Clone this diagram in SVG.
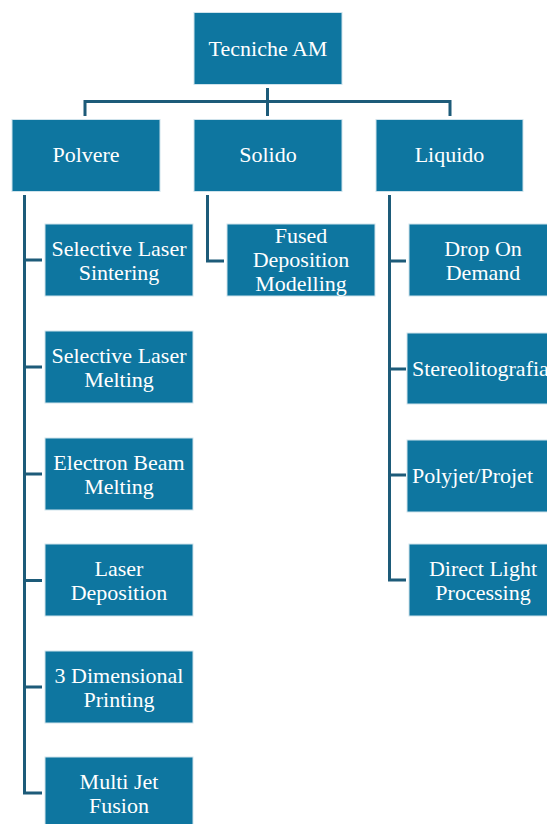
<svg xmlns="http://www.w3.org/2000/svg" width="547" height="824" viewBox="0 0 547 824">
<style>
.box{fill:#0E76A0;stroke:#CFE3EC;stroke-width:1}
text{font-family:'Liberation Serif','Times New Roman',Tinos,'Noto Serif',FreeSerif,'Nimbus Roman','DejaVu Serif',Times,serif;font-size:22px;fill:#FFFFFF}
.t{text-anchor:middle}
.ts{text-anchor:start}
.c{fill:none;stroke:#1D5B79;stroke-width:3}
</style>
<rect width="547" height="824" fill="#FFFFFF"/>
<g id="connectors">
<path class="c" d="M85,116 V101.5 H450 V116 M267.5,88 V116"/>
<path class="c" d="M24.5,195 V793 H42 M24.5,260 H42 M24.5,367 H42 M24.5,474 H42 M24.5,580.5 H42 M24.5,687 H42"/>
<path class="c" d="M207.5,195 V261 H224"/>
<path class="c" d="M389.5,195 V580 H406 M389.5,261 H406 M389.5,369 H406 M389.5,475 H406"/>
</g>
<g id="n-root"><rect class="box" x="194" y="12.5" width="148" height="72"/><text class="t" x="268" y="55.5">Tecniche AM</text></g>
<g id="n-polvere"><rect class="box" x="12" y="119.5" width="148" height="72"/><text class="t" x="86" y="162">Polvere</text></g>
<g id="n-solido"><rect class="box" x="194" y="119.5" width="148" height="72"/><text class="t" x="268" y="162">Solido</text></g>
<g id="n-liquido"><rect class="box" x="376" y="119.5" width="147" height="72"/><text class="t" x="449.5" y="162">Liquido</text></g>
<g id="n-sls"><rect class="box" x="45" y="224" width="148" height="72"/><text class="t" x="119" y="255.5">Selective Laser</text><text class="t" x="119" y="279.5">Sintering</text></g>
<g id="n-slm"><rect class="box" x="45" y="331" width="148" height="72"/><text class="t" x="119" y="362.5">Selective Laser</text><text class="t" x="119" y="386.5">Melting</text></g>
<g id="n-ebm"><rect class="box" x="45" y="438" width="148" height="72"/><text class="t" x="119" y="469.5">Electron Beam</text><text class="t" x="119" y="493.5">Melting</text></g>
<g id="n-ld"><rect class="box" x="45" y="544" width="148" height="72"/><text class="t" x="119" y="575.5">Laser</text><text class="t" x="119" y="599.5">Deposition</text></g>
<g id="n-3dp"><rect class="box" x="45" y="651" width="148" height="72"/><text class="t" x="119" y="682.5">3 Dimensional</text><text class="t" x="119" y="706.5">Printing</text></g>
<g id="n-mjf"><rect class="box" x="45" y="757" width="148" height="72"/><text class="t" x="119" y="788.5">Multi Jet</text><text class="t" x="119" y="812.5">Fusion</text></g>
<g id="n-fdm"><rect class="box" x="227" y="224" width="148" height="72"/><text class="t" x="301" y="243">Fused</text><text class="t" x="301" y="267">Deposition</text><text class="t" x="301" y="291">Modelling</text></g>
<g id="n-dod"><rect class="box" x="409" y="224" width="148" height="72"/><text class="t" x="483" y="255.5">Drop On</text><text class="t" x="483" y="279.5">Demand</text></g>
<g id="n-sla"><rect class="box" x="407" y="333" width="152" height="71"/><text class="ts" x="412" y="376">Stereolitografia</text></g>
<g id="n-polyjet"><rect class="box" x="407" y="440" width="152" height="72"/><text class="ts" x="412" y="483">Polyjet/Projet</text></g>
<g id="n-dlp"><rect class="box" x="409" y="544" width="148" height="72"/><text class="t" x="483" y="575.5">Direct Light</text><text class="t" x="483" y="599.5">Processing</text></g>
</svg>
